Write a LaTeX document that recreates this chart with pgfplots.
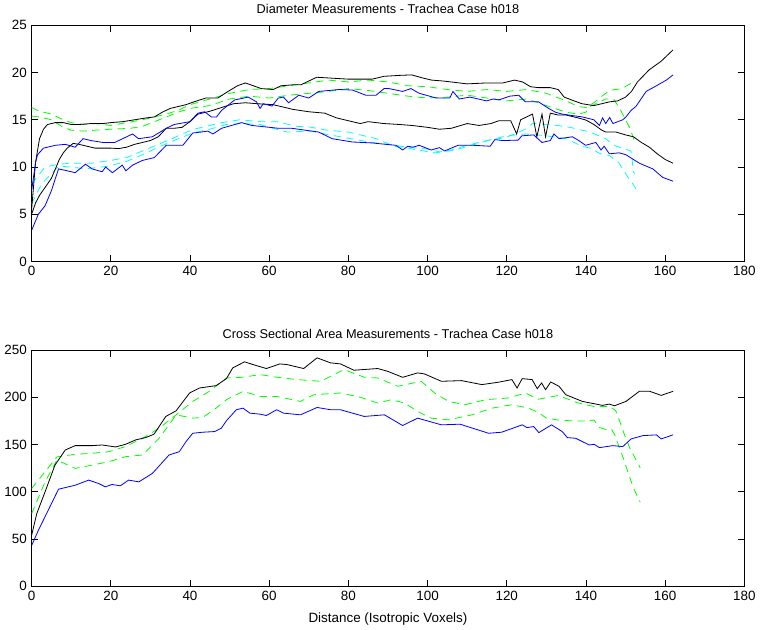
\documentclass[border=0pt]{standalone}
\usepackage{pgfplots}
\pgfplotsset{compat=1.18}
\usepackage{fontspec}
\setmainfont{Liberation Sans}

\definecolor{mgreen}{rgb}{0,1,0}
\definecolor{mcyan}{rgb}{0,1,1}
\definecolor{mblue}{rgb}{0,0,1}

\pgfplotsset{
  mat/.style={
    scale only axis, width=531pt, height=176pt,
    xmin=0, xmax=180, xtick={0,20,...,180},
    tick align=inside, major tick length=5pt,
    xtick pos=both, ytick pos=both,
    xticklabel pos=lower, yticklabel pos=left,
    axis line style={line width=0.8pt},
    tick style={line width=0.6pt, black},
    /pgf/number format/assume math mode=true,
    tick label style={font=\fontsize{10}{12}\selectfont},
    label style={font=\fontsize{10}{12}\selectfont},
    title style={font=\fontsize{9.5}{11}\selectfont, yshift=-1pt},
    every axis plot/.append style={line width=0.6pt},
  },
  solidk/.style={black},
  solidb/.style={mblue},
  dashg/.style={mgreen, dash pattern=on 5.5pt off 4pt},
  dashc/.style={mcyan, dash pattern=on 5.5pt off 4pt},
}

\begin{document}
\begin{tikzpicture}
% top panel: diameters
\begin{axis}[mat, name=top,
  ymin=0, ymax=25, ytick={0,5,...,25},
  title={Diameter Measurements - Trachea Case h018}]
\addplot[dashg] coordinates {(0,16.3)(2,15.9)(5,15.6)(8,15.0)(10,14.7)(13,14.5)(16,14.6)(20,14.4)(24,14.7)(28,15.0)(31,15.3)(34,15.6)(37,16.0)(40,16.6)(45,17.2)(50,17.8)(55,18.2)(60,18.3)(65,18.6)(70,18.9)(75,19.2)(80,19.0)(85,19.2)(90,19.0)(95,18.6)(100,18.5)(105,18.2)(110,18.0)(115,18.2)(120,18.0)(125,18.2)(130,17.8)(135,17.0)(138,16.4)(140,16.3)(142,16.8)(144,17.5)(146,18.1)(149,18.3)(152,19.0)};
\addplot[dashg] coordinates {(0,15.4)(2,15.3)(5,15.0)(8,14.2)(10,13.9)(13,13.8)(16,13.9)(20,14.0)(25,14.1)(28,14.3)(31,14.8)(34,15.3)(37,15.8)(40,16.2)(45,16.5)(50,17.2)(55,17.5)(60,17.3)(65,17.6)(70,17.8)(75,18.0)(80,18.3)(85,18.1)(90,17.8)(95,17.5)(100,17.3)(105,17.4)(110,17.6)(115,17.3)(120,17.0)(125,17.2)(130,16.5)(135,15.8)(138,15.6)(140,15.8)(141,16.4)(143,16.8)(145,17.2)(147,17.2)(148.5,16.2)(150,15.0)(151,14.2)(152.5,12.5)};
\addplot[dashc] coordinates {(0,8.2)(3.4,10.0)(6.8,10.3)(10,10.4)(15,10.4)(20,10.7)(24,11.0)(28,11.7)(32,12.4)(36,13.1)(38,13.5)(41,14.0)(44,14.3)(48,14.7)(52.6,15.0)(57.7,14.8)(61.9,14.8)(67,14.3)(70,14.25)(74.6,13.9)(80,13.7)(83,13.4)(87,13.0)(91.6,12.2)(95,12.0)(97.6,11.8)(101.8,11.5)(106.9,11.8)(112.8,12.5)(116,12.9)(119.6,13.1)(122,13.5)(124.7,14.0)(126.5,14.6)(131,14.5)(136,14.2)(141,13.7)(145,13.0)(147,12.3)(150,11.9)(151.4,11.7)(152,9.5)(152.3,9.3)};
\addplot[dashc] coordinates {(0,6.1)(2.5,8.2)(6.8,10.1)(10,10.0)(13.6,9.8)(19.5,10.1)(24,10.6)(28,11.3)(32,12.1)(36.5,12.9)(40.7,13.6)(45,14.0)(49.2,14.5)(53,14.6)(57.7,14.5)(61,14.1)(64.5,13.7)(70.5,13.8)(74,13.5)(78,13.2)(82,12.9)(86,12.6)(90,12.4)(95,12.1)(100,11.9)(103,11.6)(106,11.8)(110,12.3)(115,12.8)(120,13.3)(125,13.5)(130,13.3)(135,13.0)(139,12.2)(141,12.0)(143.7,11.4)(146,11.2)(148.4,10.4)(150.5,9.0)(152.5,7.8)(153,7.2)};
\addplot[solidk] coordinates {(0,5.5)(1,10.5)(2,13.0)(3,14.0)(4,14.5)(6,14.7)(8,14.7)(10,14.5)(12,14.5)(15,14.6)(18,14.6)(20,14.7)(23,14.8)(26,15.0)(29,15.2)(31,15.3)(33,15.8)(35,16.2)(37,16.4)(39,16.6)(41,16.9)(44,17.3)(47,17.3)(50,18.1)(52,18.6)(54,18.9)(56,18.6)(58,18.3)(61,18.2)(63,18.6)(66,18.7)(68,18.7)(70,19.1)(72,19.5)(76,19.4)(80,19.3)(83,19.3)(86,19.3)(89,19.6)(93,19.7)(96,19.75)(99,19.4)(101,19.2)(104,19.1)(106,19.0)(110,18.8)(115,18.9)(119,18.9)(122,19.2)(124,19.0)(126,18.5)(128,18.4)(131,18.4)(133,18.2)(134.5,17.4)(137,17.0)(139,16.7)(142,16.5)(144,16.7)(146,16.9)(148,17.0)(150,17.4)(151.5,18.0)(153,19.0)(156,20.3)(159,21.2)(162,22.4)};
\addplot[solidk] coordinates {(0,5.0)(1,6.2)(2,7.0)(3,7.6)(4,8.2)(5,8.8)(6,9.8)(7,10.8)(8,11.5)(9,12.0)(10.5,12.5)(12,12.4)(14,12.2)(16,12.0)(18,12.0)(20,12.0)(22,11.95)(24,12.1)(26,12.4)(28,12.6)(30,12.8)(32,13.2)(34,14.1)(36,14.1)(38,14.2)(40,14.8)(42,15.6)(45,15.9)(48,16.3)(51,16.7)(54,16.8)(57,16.7)(61,16.6)(64,16.3)(66,16.1)(70,15.85)(74,15.7)(77,15.2)(80,14.9)(83,14.6)(85,14.8)(89,14.6)(93,14.5)(96,14.4)(100,14.2)(103,14.0)(106,14.1)(110,14.6)(113,14.4)(116,14.6)(118,14.9)(121,14.9)(122.5,13.5)(123.5,15.0)(126.5,15.6)(127.6,13.2)(128.9,15.6)(129.8,13.2)(131,15.7)(133,15.5)(135,15.5)(138,15.2)(140,14.97)(142,14.5)(144,13.9)(145,13.7)(147.6,13.7)(150,13.4)(152,13.2)(154,12.6)(156,12.1)(158,11.4)(160,10.8)(162,10.4)};
\addplot[solidb] coordinates {(0,7.5)(1,10.5)(1.5,11.3)(3,12.0)(6,12.3)(8.5,12.4)(11,12.1)(13,13.0)(15,12.8)(18,12.6)(21,12.6)(24,13.2)(25.5,13.5)(27,13.0)(30.5,13.2)(34,14.1)(36,14.5)(40,14.8)(42,15.7)(43.7,15.85)(45.4,15.3)(46.7,15.3)(48,16.0)(51.3,17.1)(54.7,17.4)(56.8,16.9)(57.7,16.2)(58.5,16.7)(60.7,16.45)(62.3,17.3)(63.6,17.4)(64.9,16.8)(67.5,17.6)(70,17.3)(72.5,18.0)(77.6,18.2)(81,18.15)(84.4,17.6)(87,17.6)(89,18.3)(90.3,18.3)(93.7,18.0)(95.8,18.3)(97.9,17.8)(102.2,17.3)(105.6,17.3)(106.4,18.0)(108,17.2)(110.7,17.4)(114.9,17.0)(116.6,17.2)(118,17.1)(120.8,17.5)(123,17.6)(124.7,16.9)(128,16.9)(130.6,16.2)(132.3,15.8)(134,15.6)(139.1,15.3)(142,15.0)(143.4,14.4)(144.2,15.2)(145,14.6)(146,15.25)(146.8,14.6)(149.3,15.0)(150.1,15.3)(151.4,16.0)(152.6,16.4)(155.2,18.0)(157.8,18.6)(160.3,19.2)(162,19.75)};
\addplot[solidb] coordinates {(0,3.3)(1.7,5.0)(3.4,5.9)(5,7.5)(6.8,9.8)(9,9.6)(11,9.4)(13.6,10.3)(15.3,9.8)(17.8,9.5)(18.7,10.0)(20.4,9.4)(22.9,10.2)(23.8,9.6)(25.5,10.2)(28,10.7)(31,11.0)(34,12.3)(38.2,12.3)(40.7,13.6)(42.8,13.7)(44.5,13.8)(45.8,13.5)(48,14.1)(53,14.7)(55.6,14.4)(59,14.25)(62.3,14.1)(65.7,14.1)(69.1,13.9)(72.5,13.7)(75.9,13.0)(81,12.65)(86,12.55)(89.5,12.4)(92,12.3)(93.7,11.8)(95,12.2)(96.3,12.1)(97.9,12.3)(100.9,11.8)(103,12.05)(104.3,11.7)(107.7,12.3)(111.5,12.3)(115.8,12.2)(117,12.9)(119.1,12.8)(122.9,12.85)(123.8,13.3)(126.8,13.4)(128.9,12.6)(131,12.8)(131.9,13.5)(133.2,13.0)(136.6,13.2)(138.2,12.8)(139.9,12.3)(142.5,12.6)(143.8,11.8)(144.6,12.2)(145.9,11.4)(148.4,11.5)(150.1,11.3)(153.5,10.4)(156.9,9.8)(159.4,8.9)(162,8.5)};
\end{axis}

% bottom panel: cross sectional areas
\begin{axis}[mat, at={(top.south west)}, anchor=north west, yshift=-66pt,
  ymin=0, ymax=250, ytick={0,50,...,250},
  title={Cross Sectional Area Measurements - Trachea Case h018},
  xlabel={Distance (Isotropic Voxels)},
  xlabel style={yshift=-2pt}]
\addplot[dashg] coordinates {(0,103.5)(3.4,121.3)(6.4,137)(11,139.7)(15.3,140.8)(19.5,142.5)(23.7,147.9)(28,156.7)(32.2,167.3)(36.5,181.5)(40.7,195.7)(44.9,206.4)(49.2,220.5)(53.4,221.3)(57.7,224.1)(61.9,221.3)(67,218.8)(73,217)(78.9,229.4)(84,221.3)(87.4,220.5)(92.5,211.7)(98.4,217)(101.8,204.6)(105.3,195.7)(109.5,192.2)(114.6,197.5)(120.4,199.3)(124.7,204.6)(128,198)(133,202)(138,194)(142,190.4)(146,190.4)(147.5,186)(148.5,175)(149.5,163)(151,147)(152.5,135)(153.7,125.5)};
\addplot[dashg] coordinates {(0,76.9)(3.4,110.6)(6.4,133.7)(11,124.8)(15.3,128.3)(19.5,131.9)(23.7,137.2)(28,139)(32.2,156.7)(36.5,181.5)(40.7,178)(43.2,178.7)(46.6,188.6)(49.2,197.5)(53.4,206.4)(57.7,201)(61.9,201)(67.9,195.7)(71.3,202.8)(78,204.6)(83.1,200)(87.4,194)(90.8,197.5)(94.2,194)(97.5,185.1)(100.9,178)(105.3,176.2)(111.2,181.5)(116.3,188.6)(121.3,192.2)(125.5,188.6)(128,184)(130,178)(133,176)(137,175)(140,175)(142,176)(143.5,168)(145,166)(146.5,166)(147.3,160)(148.5,146)(149.5,135)(150.5,122)(152,104)(153.7,89)};
\addplot[solidk] coordinates {(0,53.9)(1.3,76.9)(3.4,100)(5.9,128.3)(8.5,144.3)(11,148.9)(15.3,148.9)(17.8,149.6)(21.2,147.5)(23.7,150.3)(26.3,155)(28.8,157.4)(30.9,161)(33.9,179.8)(36.5,185.8)(39.9,204.6)(42.4,209.9)(46.6,212.4)(49.2,219.8)(50.8,231.2)(53.8,237.6)(55.9,234.7)(59.3,230.5)(62.7,235.4)(64.5,234.7)(68.7,230.5)(72.1,241.8)(75.5,236.5)(78,235.4)(81.4,228.7)(87.4,230.5)(89.9,227.6)(93.7,221.2)(97.5,225.9)(99.2,224.8)(103.5,217)(108.6,217.7)(113.7,213.5)(117.9,216)(121.3,218.8)(122.6,209.9)(123.9,219.8)(126.4,218.8)(127.7,209.2)(128.8,215.2)(129.8,208.1)(131.1,216.3)(133.2,211.7)(134.9,202.8)(139.1,195.7)(144.2,191.5)(145.9,192.9)(147.2,191.1)(150.1,195.7)(153.5,206.4)(156.1,206.4)(159,202.1)(162,206.4)};
\addplot[solidb] coordinates {(0,43.2)(1.7,59.2)(6.8,102.8)(11,107)(14.4,112.4)(16.9,108.9)(18.6,105.3)(20.3,107.8)(22.4,106.4)(24.5,112.4)(27.1,110.6)(30.5,119.5)(34.7,139)(37.3,142.5)(39,153.2)(40.7,162)(43.2,163.1)(46.2,163.8)(47.9,167.3)(49.2,175.2)(51.7,186.9)(53.4,188.6)(55.1,183.3)(57.7,182.2)(59.3,180.8)(61.9,186.9)(63.6,183.3)(67.9,181.5)(72.1,189.3)(75.5,186.9)(78,186.9)(84,179.8)(89.1,181.5)(93.7,170.2)(97.5,178)(103.5,170.9)(108.2,171.6)(115.4,162)(118.7,163.1)(123.9,170.9)(125.1,168)(126.8,169.1)(128.1,162.7)(131.3,170.9)(134,163.8)(135.3,157.4)(137.4,156.7)(140.8,149.6)(142.1,150.3)(143.4,146.8)(146.8,148.9)(149.3,147.9)(151.4,156)(154.4,159.5)(157.8,160.3)(159,156)(162,160.3)};
\end{axis}
\end{tikzpicture}
\end{document}
